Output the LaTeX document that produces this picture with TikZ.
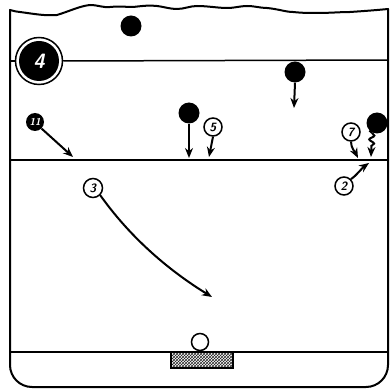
\documentclass[tikz,border=0pt]{standalone}
\usetikzlibrary{arrows.meta,patterns,decorations.pathmorphing}
\begin{document}
\begin{tikzpicture}[x=1pt,y=-1pt,
  court/.style={line width=2pt,line cap=round,line join=round},
  markline/.style={line width=1.5pt},
  blackp/.style={circle,fill=black,minimum size=21pt,inner sep=0pt},
  whitep/.style={circle,draw=black,line width=1.5pt,fill=white,minimum size=18pt,inner sep=0pt,font=\sffamily\bfseries\itshape\large},
  numblack/.style={circle,fill=black,text=white,minimum size=18pt,inner sep=0pt,font=\sffamily\bfseries\itshape},
  mv/.style={line width=2pt,-{Stealth[length=10pt,width=8pt]}}]
\useasboundingbox (0,0) rectangle (391,390);
% court outline
\draw[court,rounded corners=22pt] (10,10) -- (10,387) -- (388,387) -- (388,9);
\draw[court] (10,10) .. controls (14,11) and (17,12) .. (20,12)
  .. controls (35,14) and (45,16) .. (57,15)
  .. controls (70,11) and (80,6) .. (90,5)
  .. controls (98,5) and (104,8) .. (110,7)
  .. controls (120,6) and (126,7) .. (133,7)
  .. controls (142,6) and (150,5) .. (157,6)
  .. controls (165,7) and (170,9) .. (177,9)
  .. controls (184,9) and (190,6) .. (197,6)
  .. controls (208,6) and (218,8) .. (227,8)
  .. controls (235,8) and (240,6) .. (247,6)
  .. controls (255,6) and (260,8) .. (267,8)
  .. controls (278,9) and (286,12) .. (293,12)
  .. controls (302,13) and (310,13) .. (317,13)
  .. controls (330,13) and (340,12) .. (350,12)
  .. controls (365,11) and (378,10) .. (388,9);
% lines
\node[circle,draw=black,line width=1.5pt,fill=white,minimum size=47pt,inner sep=0pt] (four) at (39,61) {};
\node[circle,fill=black,minimum size=40pt,inner sep=0pt,text=white,font=\sffamily\bfseries\itshape\huge] (fourin) at (39,61) {4};
\coordinate (l1a) at (10,61);
\coordinate (l1b) at (388,60);
\draw[markline] (l1a) -- (four.west);
\draw[markline] (four.east) -- (l1b);
\coordinate (l2a) at (10,160);
\coordinate (l2b) at (388,160);
\draw[markline] (l2a) -- (l2b);
\coordinate (l3a) at (10,352);
\coordinate (l3b) at (388,352);
\draw[markline] (l3a) -- (l3b);
% goal
\draw[line width=1.2pt,pattern=crosshatch,pattern color=black!85] (171,352) rectangle (233,368);
\node[circle,draw=black,line width=1.5pt,fill=white,minimum size=17pt,inner sep=0pt] (ball) at (200,342) {};
% black players
\node[blackp] (bt) at (131,26) {};
\node[blackp] (bm) at (295,72) {};
\node[blackp] (bl) at (189,113) {};
\node[blackp] (br) at (377,123) {};
\node[numblack] (p11) at (35,122) {11};
% white players
\node[whitep] (p5) at (213,127) {5};
\node[whitep] (p7) at (351,132) {7};
\node[whitep] (p2) at (344,186) {2};
\node[whitep,minimum size=19pt] (p3) at (93,188) {3};
% movements
\coordinate (bmE) at (294,108);
\draw[mv] (bm.south) -- (bmE);
\coordinate (blE) at (189,158);
\draw[mv] (bl.south) -- (blE);
\coordinate (p5E) at (209,157);
\draw[mv] (p5.south) -- (p5E);
\coordinate (p11E) at (73,157);
\draw[mv] (p11.south east) -- (p11E);
\coordinate (p7E) at (358,158);
\draw[mv] (p7.south) .. controls (351,148) and (355,152) .. (p7E);
\coordinate (brS) at (372,133);
\coordinate (brE) at (371,157);
\draw[line width=2pt] (br.south west) -- (brS);
\draw[mv,decorate,decoration={snake,amplitude=2.5pt,segment length=8pt,post length=8pt}] (brS) -- (brE);
\coordinate (p2E) at (369,163);
\draw[mv] (p2.north east) .. controls (356,176) and (362,168) .. (p2E);
\coordinate (p3E) at (212,297);
\draw[mv] (p3.south east) .. controls (125,230) and (160,265) .. (p3E);
\end{tikzpicture}
\end{document}
